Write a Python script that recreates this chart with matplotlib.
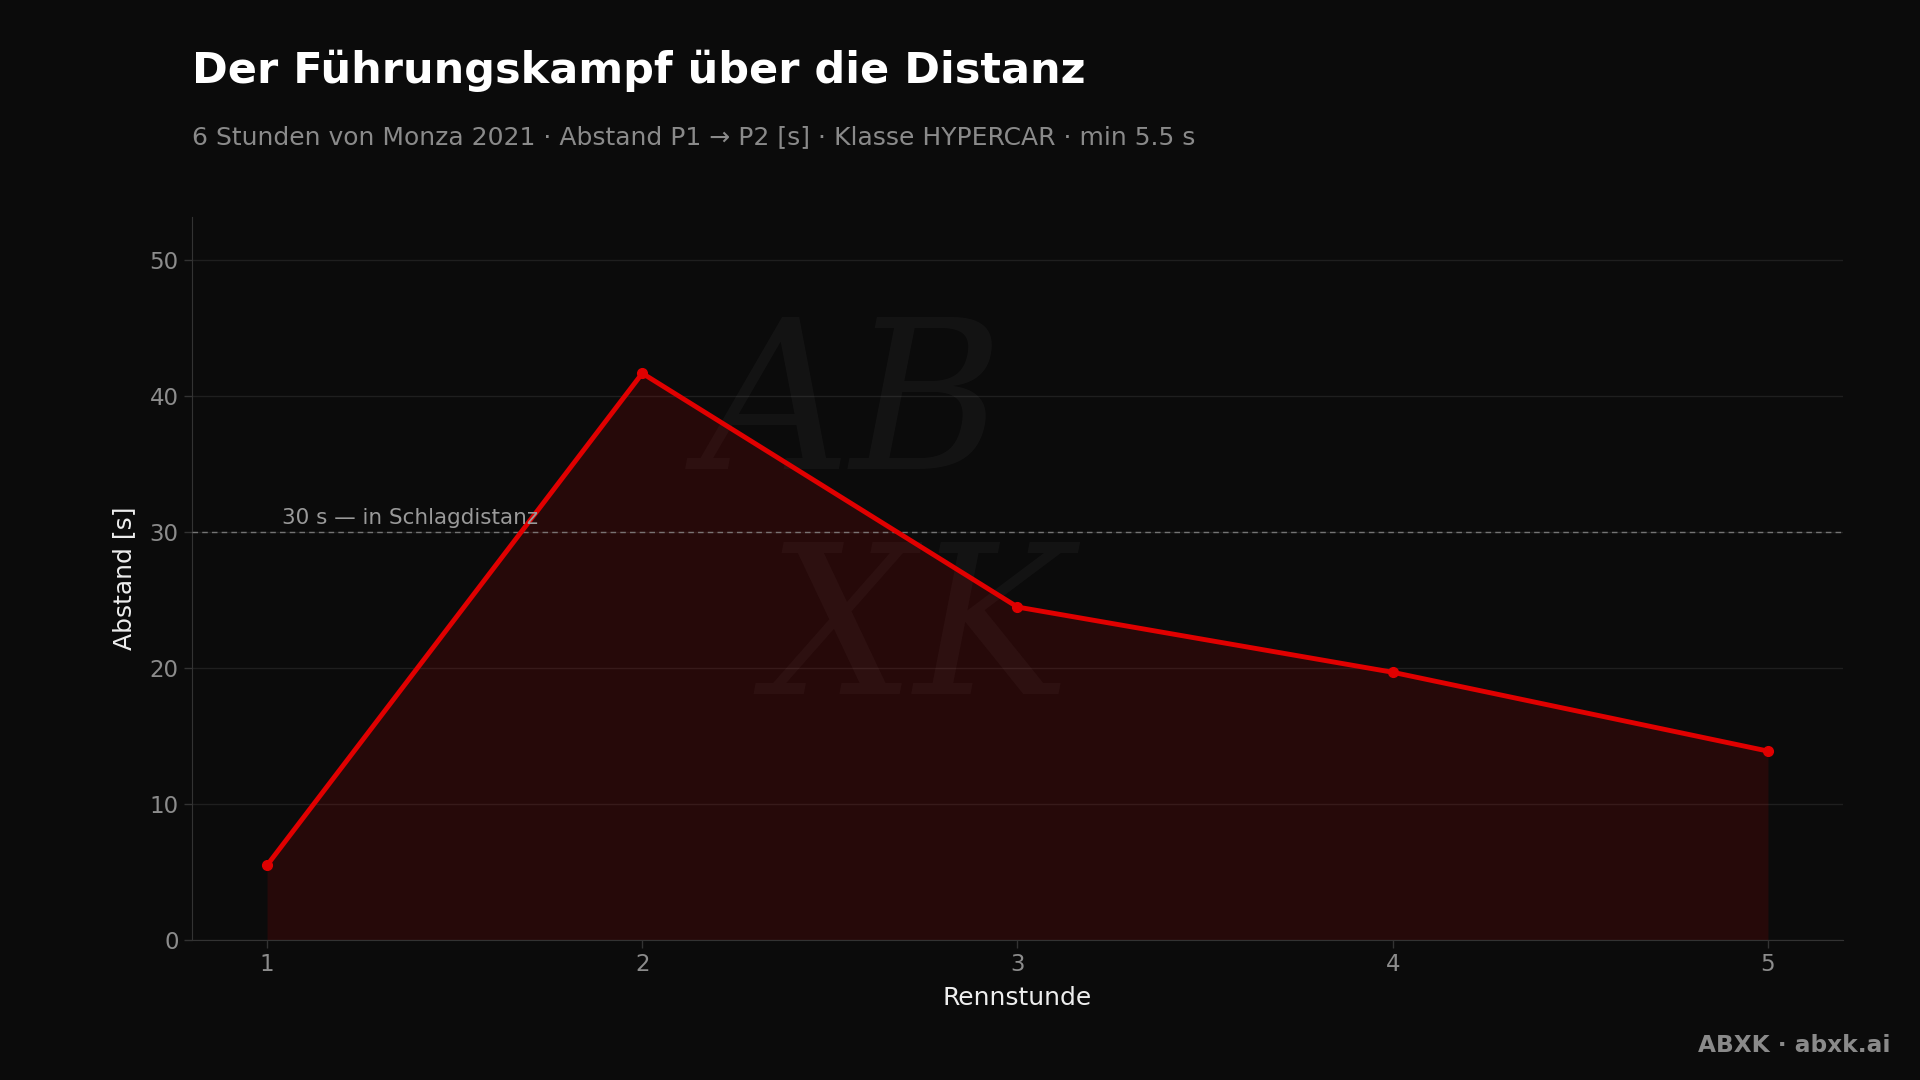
import matplotlib
matplotlib.use("Agg")
import matplotlib.pyplot as plt
import numpy as np

# Abstand P1 -> P2 je Rennstunde
stunden = [1, 2, 3, 4, 5]
abstand = [5.5, 41.7, 24.5, 19.7, 13.9]
schwelle = 30
schwelle_text = "30 s — in Schlagdistanz"

titel = "Der Führungskampf über die Distanz"
untertitel = "6 Stunden von Monza 2021 · Abstand P1 → P2 [s] · Klasse HYPERCAR · min 5.5 s"

bg = "#0b0b0b"
rot = "#e00000"

plt.rcParams['font.family'] = ['DejaVu Sans']
fig = plt.figure(figsize=(19.2, 10.8), dpi=100, facecolor=bg)
ax = fig.add_axes([192/1920, 1 - 940/1080, (1843-192)/1920, (940-217)/1080])
ax.set_facecolor(bg)

ax.fill_between(stunden, abstand, 0, color=rot, alpha=0.13, linewidth=0, zorder=2)
ax.plot(stunden, abstand, color=rot, linewidth=3.5, marker='o', markersize=7, zorder=4)

ax.axhline(schwelle, color="#8a8a8a", linestyle=(0, (4, 3)), linewidth=1, alpha=0.8, zorder=3)
ax.text(1.04, schwelle + 0.3, schwelle_text, color="#9a9a9a", fontsize=15.5,
        ha='left', va='bottom', zorder=5)

# Wasserzeichen
ax.text(0.40, 0.73, "AB", transform=ax.transAxes, fontsize=150, style='italic',
        color="white", alpha=0.035, ha='center', va='center', family='DejaVu Serif', zorder=1)
ax.text(0.44, 0.42, "XK", transform=ax.transAxes, fontsize=150, style='italic',
        color="white", alpha=0.035, ha='center', va='center', family='DejaVu Serif', zorder=1)

ax.set_xlim(0.8, 5.2)
ax.set_ylim(0, 53.2)
ax.set_xticks(stunden)
ax.set_yticks([0, 10, 20, 30, 40, 50])
ax.grid(axis='y', color="#1f1f1f", linewidth=1)
ax.set_axisbelow(True)

for s in ['top', 'right']:
    ax.spines[s].set_visible(False)
for s in ['left', 'bottom']:
    ax.spines[s].set_color("#333333")
ax.tick_params(colors="#8c8c8c", labelsize=16.5, length=6, width=1)
ax.tick_params(axis='both', color="#333333")
for lab in ax.get_xticklabels() + ax.get_yticklabels():
    lab.set_color("#8c8c8c")

ax.set_xlabel("Rennstunde", color="#eeeeee", fontsize=18, labelpad=7)
ax.set_ylabel("Abstand [s]", color="#eeeeee", fontsize=18, labelpad=10)

fig.text(192/1920, 1 - 71/1080, titel, color="white", fontsize=31, fontweight='bold',
         ha='left', va='center')
fig.text(192/1920, 1 - 137/1080, untertitel, color="#8a8a8a", fontsize=18,
         ha='left', va='center')
fig.text(1890/1920, 1 - 1045/1080, "ABXK · abxk.ai", color="#8a8a8a", fontsize=16.75,
         fontweight='bold', ha='right', va='center')

fig.savefig("out.png", dpi=100, facecolor=bg)
